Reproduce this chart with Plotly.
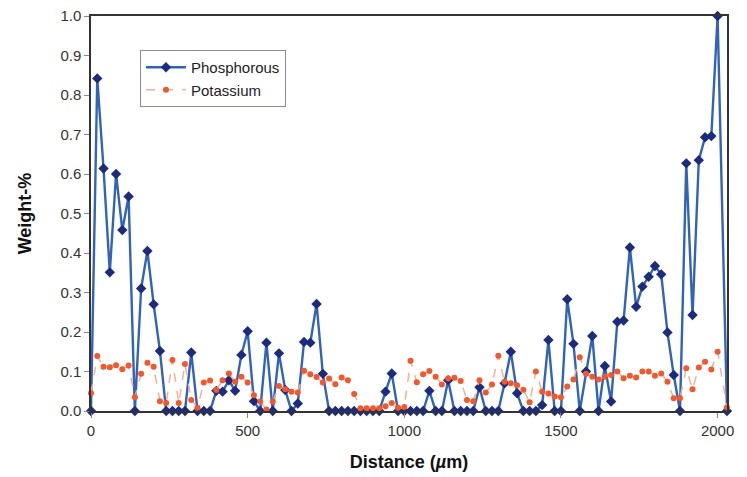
import plotly.graph_objects as go

# Distance grid (µm)
distance_um = list(range(0, 2020, 20)) + [2030]

phosphorous = [
    0.0, 0.842, 0.614, 0.351, 0.600, 0.458, 0.543, 0.0, 0.31, 0.405,
    0.27, 0.152, 0.0, 0.0, 0.0, 0.0, 0.148, 0.0, 0.0, 0.0,
    0.051, 0.049, 0.078, 0.051, 0.142, 0.202, 0.025, 0.0, 0.173, 0.0,
    0.146, 0.053, 0.0, 0.019, 0.175, 0.173, 0.271, 0.094, 0.0, 0.0,
    0.0, 0.0, 0.0, 0.0, 0.0, 0.0, 0.0, 0.049, 0.095, 0.0,
    0.0, 0.0, 0.0, 0.0, 0.051, 0.0, 0.0, 0.078, 0.0, 0.0,
    0.0, 0.0, 0.06, 0.0, 0.0, 0.0, 0.07, 0.15, 0.045, 0.0,
    0.0, 0.0, 0.015, 0.18, 0.0, 0.0, 0.283, 0.17, 0.0, 0.10,
    0.19, 0.0, 0.114, 0.024, 0.226, 0.229, 0.414, 0.264, 0.315, 0.34,
    0.367, 0.346, 0.199, 0.091, 0.0, 0.627, 0.243, 0.635, 0.693, 0.696,
    1.0, 0.0,
]

potassium = [
    0.045, 0.139, 0.112, 0.111, 0.116, 0.106, 0.115, 0.035, 0.094, 0.122,
    0.112, 0.025, 0.02, 0.129, 0.02, 0.119, 0.028, 0.008, 0.072, 0.077,
    0.053, 0.078, 0.095, 0.074, 0.087, 0.072, 0.04, 0.024, 0.004, 0.024,
    0.063, 0.055, 0.049, 0.047, 0.102, 0.093, 0.086, 0.072, 0.082, 0.068,
    0.085, 0.078, 0.043, 0.007, 0.007, 0.007, 0.007, 0.012, 0.02, 0.008,
    0.01, 0.127, 0.073, 0.093, 0.101, 0.087, 0.067, 0.082, 0.084, 0.076,
    0.028, 0.025, 0.078, 0.047, 0.067, 0.14, 0.074, 0.07, 0.065, 0.054,
    0.022, 0.10, 0.049, 0.044, 0.037, 0.035, 0.062, 0.08, 0.136, 0.094,
    0.087, 0.08, 0.087, 0.091, 0.10, 0.083, 0.089, 0.085, 0.10, 0.10,
    0.089, 0.095, 0.074, 0.032, 0.032, 0.108, 0.055, 0.11, 0.125, 0.105,
    0.15, 0.009,
]

x_ticks = [0, 500, 1000, 1500, 2000]
y_ticks = [0.0, 0.1, 0.2, 0.3, 0.4, 0.5, 0.6, 0.7, 0.8, 0.9, 1.0]

FONT = "Liberation Sans, Arial, sans-serif"

fig = go.Figure()
fig.add_trace(go.Scatter(
    x=distance_um, y=phosphorous, name="Phosphorous",
    mode="lines+markers",
    line=dict(color="#2f63bd", width=2.4),
    marker=dict(symbol="diamond", size=8, color="#1b2b80"),
    cliponaxis=False,
))
fig.add_trace(go.Scatter(
    x=distance_um, y=potassium, name="Potassium",
    mode="lines+markers",
    line=dict(color="#f8b090", width=1.5, dash="dash"),
    marker=dict(symbol="circle", size=6, color="#f4572a"),
    cliponaxis=False,
))

fig.update_layout(
    width=747, height=477,
    margin=dict(l=91, r=20, t=16, b=66),
    paper_bgcolor="white", plot_bgcolor="white",
    font=dict(family=FONT, size=15, color="#333333"),
    showlegend=True,
    legend=dict(
        x=0.077, y=0.914, xanchor="left", yanchor="top",
        bgcolor="white", bordercolor="#8a8a9a", borderwidth=1,
        font=dict(family=FONT, size=15, color="#222222"),
        tracegroupgap=0, itemwidth=40,
    ),
)
fig.update_xaxes(
    range=[0, 2030], tickvals=x_ticks, ticktext=[str(v) for v in x_ticks],
    showgrid=False, zeroline=False, automargin=False,
    showline=True, linecolor="#333333", linewidth=1.5, mirror=True,
    ticks="outside", ticklen=5, tickcolor="#888888",
    tickfont=dict(family=FONT, size=15, color="#333333"),
    title=dict(text="<b>Distance (<i>µ</i>m)</b>", standoff=18,
               font=dict(family=FONT, size=18, color="#111111")),
)
fig.update_yaxes(
    range=[0, 1.0], tickvals=y_ticks, ticktext=[f"{v:.1f}" for v in y_ticks],
    showgrid=False, zeroline=False, automargin=False,
    showline=True, linecolor="#333333", linewidth=1.5, mirror=True,
    ticks="outside", ticklen=5, tickcolor="#888888",
    tickfont=dict(family=FONT, size=15, color="#333333"),
    title=dict(text="<b>Weight-%</b>", standoff=24,
               font=dict(family=FONT, size=18, color="#111111")),
)

fig.write_html("out.html")
